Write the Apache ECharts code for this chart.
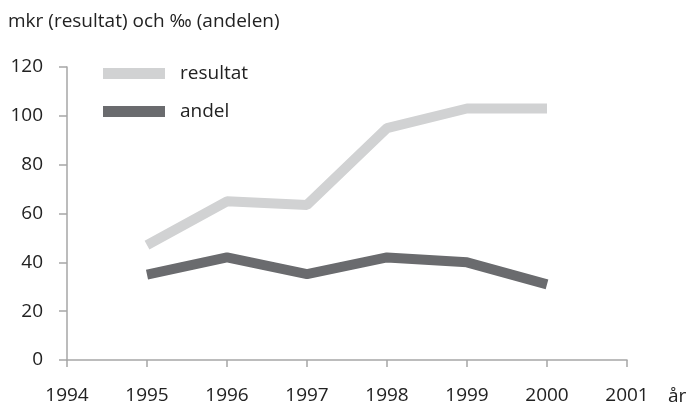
<!DOCTYPE html>
<html lang="sv">
<head>
    <meta charset="utf-8">
    <title>resultat och andel</title>
    <script src="https://cdn.jsdelivr.net/npm/echarts@6/dist/echarts.min.js"></script>
    <style>
        body { margin: 0; background: #fff; }
    </style>
</head>
<body>
<div id="main" style="width: 689px;height:404px;"></div>
<script type="text/javascript">
    var years = [1995, 1996, 1997, 1998, 1999, 2000];
    var resultat = [47, 65, 63.5, 95, 103, 103];
    var andel = [35, 42, 35.2, 42, 40, 31];

    var pair = function (vals) {
        return vals.map(function (v, i) { return [years[i], v]; });
    };

    var myChart = echarts.init(document.getElementById('main'));
    var txt = '#222';
    var ax = '#a6a6a6';
    var fs = 19;

    option = {
        animation: false,
        textStyle: { fontFamily: 'Open Sans' },
        title: {
            text: 'mkr (resultat) och ‰ (andelen)',
            left: 3,
            top: 12,
            padding: [0, 5],
            textStyle: { color: txt, fontSize: fs, fontWeight: 'normal' }
        },
        legend: {
            orient: 'vertical',
            left: 103,
            top: 64,
            padding: 0,
            itemWidth: 62,
            itemHeight: 11,
            itemGap: 19,
            icon: 'rect',
            textStyle: { color: txt, fontSize: fs, padding: [0, 0, 0, 10] },
            data: ['resultat', 'andel']
        },
        grid: {
            left: 67,
            right: 62,
            top: 67,
            bottom: 44,
            containLabel: false,
            outerBoundsMode: 'none'
        },
        xAxis: {
            type: 'value',
            min: 1994,
            max: 2001,
            interval: 1,
            name: 'år',
            nameGap: 41,
            nameLocation: 'end',
            nameTextStyle: { color: txt, fontSize: fs, verticalAlign: 'top', padding: [27, 0, 0, 0] },
            axisLine: { lineStyle: { color: ax, width: 1.5 } },
            axisTick: { inside: false, length: 7, lineStyle: { color: ax, width: 1.5 } },
            axisLabel: {
                color: txt, fontSize: fs, margin: 26,
                formatter: function (v) { return String(v); }
            },
            splitLine: { show: false }
        },
        yAxis: {
            type: 'value',
            min: 0,
            max: 120,
            interval: 20,
            axisLine: { show: true, lineStyle: { color: ax, width: 1.5 } },
            axisTick: { show: true, length: 8, lineStyle: { color: ax, width: 1.5 } },
            axisLabel: { color: txt, fontSize: fs, margin: 24 },
            splitLine: { show: false }
        },
        series: [
            {
                name: 'resultat',
                type: 'line',
                symbol: 'none',
                data: pair(resultat),
                lineStyle: { color: '#d1d2d3', width: 10 },
                itemStyle: { color: '#d1d2d3' }
            },
            {
                name: 'andel',
                type: 'line',
                symbol: 'none',
                data: pair(andel),
                lineStyle: { color: '#6a6b6e', width: 10 },
                itemStyle: { color: '#6a6b6e' }
            }
        ]
    };
    myChart.setOption(option);
</script>
</body>
</html>
